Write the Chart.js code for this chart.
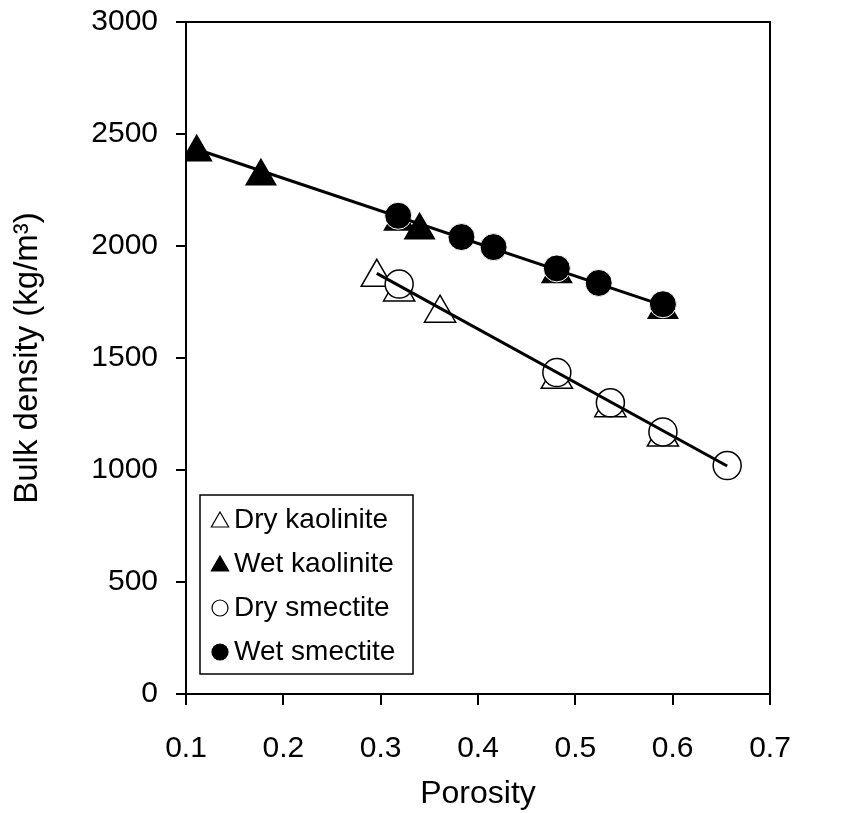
<!DOCTYPE html>
<html>
<head>
<meta charset="utf-8">
<script src="https://cdn.jsdelivr.net/npm/chart.js@4.4.1/dist/chart.umd.min.js"></script>
<style>
    html, body { margin: 0; padding: 0; background: #fff; }
</style>
</head>
<body>
<canvas id="densityChart" width="846" height="813"></canvas>
<script>
// porosity (x) and bulk density (y) per series
const dryKaoliniteX = [0.296, 0.319, 0.361, 0.481, 0.536, 0.590];
const dryKaoliniteY = [1860, 1795, 1700, 1405, 1278, 1147];
const wetKaoliniteX = [0.111, 0.177, 0.319, 0.340, 0.481, 0.590];
const wetKaoliniteY = [2418, 2311, 2109, 2070, 1875, 1715];
const drySmectiteX = [0.319, 0.481, 0.536, 0.590, 0.656];
const drySmectiteY = [1830, 1435, 1300, 1170, 1020];
const wetSmectiteX = [0.318, 0.383, 0.416, 0.481, 0.524, 0.590];
const wetSmectiteY = [2135, 2040, 1995, 1900, 1835, 1740];

// trend line end points
const wetTrendX = [0.111, 0.590];
const wetTrendY = [2432, 1735];
const dryTrendX = [0.296, 0.656];
const dryTrendY = [1878, 1018];

const xTicks = [0.1, 0.2, 0.3, 0.4, 0.5, 0.6, 0.7];
const yTicks = [0, 500, 1000, 1500, 2000, 2500, 3000];

const FONT = "'Liberation Sans', Arial, sans-serif";

function toPoints(xs, ys) {
    return xs.map(function (x, i) { return { x: x, y: ys[i] }; });
}

function markerSeries(label, xs, ys, style, filled, radius, order) {
    return {
        label: label,
        data: toPoints(xs, ys),
        pointStyle: style,
        pointRadius: radius,
        pointHoverRadius: radius,
        pointBackgroundColor: filled ? '#000' : '#fff',
        pointBorderColor: filled && style === 'circle' ? '#fff' : '#000',
        pointBorderWidth: filled && style === 'circle' ? 1 : 1.5,
        showLine: false,
        order: order,
        isLegend: true
    };
}

function trendSeries(xs, ys) {
    return {
        label: 'trend',
        data: toPoints(xs, ys),
        showLine: true,
        borderColor: '#000',
        borderWidth: 3,
        pointRadius: 0,
        order: 0,
        isLegend: false
    };
}

// box frame around the plot area
const framePlugin = {
    id: 'frame',
    afterDraw: function (chart) {
        const a = chart.chartArea;
        const ctx = chart.ctx;
        ctx.save();
        ctx.strokeStyle = '#000';
        ctx.lineWidth = 2;
        ctx.beginPath();
        ctx.moveTo(a.left, a.top);
        ctx.lineTo(a.right, a.top);
        ctx.lineTo(a.right, a.bottom);
        ctx.stroke();
        ctx.restore();
    }
};

// legend box inside the plot, bottom left
const boxLegendPlugin = {
    id: 'boxLegend',
    afterDraw: function (chart) {
        const ctx = chart.ctx;
        const left = 200, top = 495, right = 413, bottom = 674;
        const rowY = [520, 564, 608, 652];
        ctx.save();
        ctx.fillStyle = '#fff';
        ctx.fillRect(left, top, right - left, bottom - top);
        ctx.strokeStyle = '#000';
        ctx.lineWidth = 1.5;
        ctx.strokeRect(left, top, right - left, bottom - top);

        const items = chart.data.datasets.filter(function (d) { return d.isLegend; });
        items.forEach(function (d, i) {
            const y = rowY[i];
            ctx.fillStyle = d.pointBackgroundColor;
            ctx.strokeStyle = '#000';
            ctx.lineWidth = 1.2;
            Chart.helpers.drawPoint(ctx, {
                pointStyle: d.pointStyle,
                radius: d.pointStyle === 'circle' ? 8 : 10,
                rotation: 0,
                borderWidth: 1.2
            }, 220, d.pointStyle === 'circle' ? y : y + 2);
            ctx.fillStyle = '#000';
            ctx.font = '28px ' + FONT;
            ctx.textBaseline = 'middle';
            ctx.textAlign = 'left';
            ctx.fillText(d.label, 234, y);
        });
        ctx.restore();
    }
};

const ctx = document.getElementById('densityChart').getContext('2d');
const densityChart = new Chart(ctx, {
    type: 'scatter',
    data: {
        datasets: [
            trendSeries(wetTrendX, wetTrendY),
            trendSeries(dryTrendX, dryTrendY),
            markerSeries('Dry kaolinite', dryKaoliniteX, dryKaoliniteY, 'triangle', false, 18, 4),
            markerSeries('Wet kaolinite', wetKaoliniteX, wetKaoliniteY, 'triangle', true, 17, 3),
            markerSeries('Dry smectite', drySmectiteX, drySmectiteY, 'circle', false, 14, 2),
            markerSeries('Wet smectite', wetSmectiteX, wetSmectiteY, 'circle', true, 13.5, 1)
        ]
    },
    options: {
        responsive: false,
        animation: false,
        layout: { padding: { top: 22, right: 76, left: 0, bottom: 0 } },
        plugins: {
            legend: { display: false },
            tooltip: { enabled: false }
        },
        scales: {
            x: {
                type: 'linear',
                min: 0.1,
                max: 0.7,
                afterFit: function (scale) {
                    scale.height = 119;
                    scale.paddingLeft = 0;
                    scale.paddingRight = 0;
                },
                afterBuildTicks: function (scale) {
                    scale.ticks = xTicks.map(function (v) { return { value: v }; });
                },
                ticks: {
                    color: '#000',
                    font: { family: FONT, size: 30 },
                    padding: 26,
                    maxRotation: 0,
                    callback: function (v) { return v.toFixed(1); }
                },
                grid: { drawOnChartArea: false, color: '#000', lineWidth: 2, tickLength: 11 },
                border: { color: '#000', width: 2 },
                title: {
                    display: true,
                    text: 'Porosity',
                    color: '#000',
                    font: { family: FONT, size: 32 },
                    padding: { top: 0, bottom: 0 }
                }
            },
            y: {
                type: 'linear',
                min: 0,
                max: 3000,
                afterFit: function (scale) {
                    scale.width = 186;
                    scale.paddingTop = 0;
                    scale.paddingBottom = 0;
                },
                afterBuildTicks: function (scale) {
                    scale.ticks = yTicks.map(function (v) { return { value: v }; });
                },
                ticks: {
                    color: '#000',
                    font: { family: FONT, size: 30 },
                    padding: 18,
                    callback: function (v) { return String(v); }
                },
                grid: { drawOnChartArea: false, color: '#000', lineWidth: 2, tickLength: 10 },
                border: { color: '#000', width: 2 },
                title: {
                    display: true,
                    text: 'Bulk density (kg/m³)',
                    color: '#000',
                    font: { family: FONT, size: 33 },
                    padding: { top: 8, bottom: 0 }
                }
            }
        }
    },
    plugins: [framePlugin, boxLegendPlugin]
});
</script>
</body>
</html>
